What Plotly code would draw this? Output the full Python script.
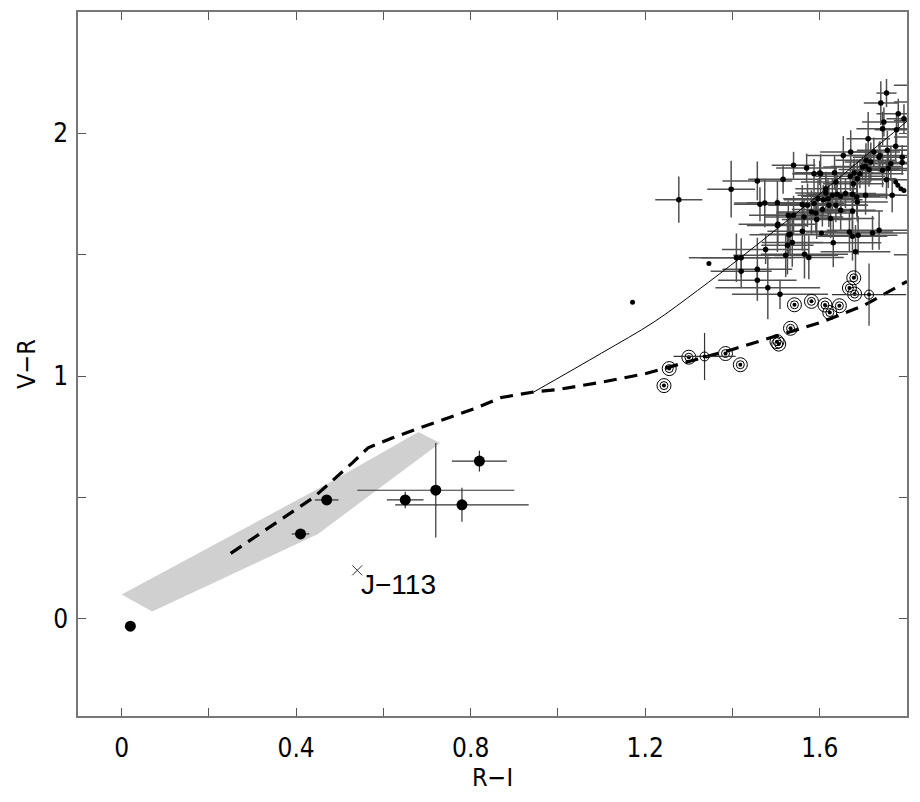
import plotly.graph_objects as go

# ---- shaded region (polygon vertices, R-I / V-R) ----
poly_x = [0.0, 0.07, 0.45, 0.73, 0.68, 0.48, 0.0]
poly_y = [0.10, 0.03, 0.35, 0.725, 0.77, 0.565, 0.10]

# ---- dashed sequence ----
dash_x = [0.25, 0.44, 0.53, 0.565, 0.62, 0.68, 0.81, 0.87, 0.945, 1.0, 1.1, 1.2, 1.3, 1.4, 1.5, 1.6, 1.7, 1.8]
dash_y = [0.27, 0.50, 0.645, 0.705, 0.745, 0.785, 0.867, 0.912, 0.935, 0.945, 0.975, 1.01, 1.06, 1.11, 1.165, 1.22, 1.29, 1.39]

# ---- thin solid sequence ----
solid_x = [0.945, 1.1, 1.22, 1.32, 1.42, 1.5, 1.577, 1.7, 1.8]
solid_y = [0.935, 1.095, 1.223, 1.353, 1.49, 1.604, 1.716, 1.90, 2.05]

# ---- large black dots with error bars ----
big_x = [0.02, 0.41, 0.47, 0.65, 0.72, 0.78, 0.82]
big_y = [-0.03, 0.35, 0.49, 0.49, 0.53, 0.47, 0.65]
big_xerr = [0, 0.02, 0.027, 0.042, 0.18, 0.153, 0.063]
big_yerr = [0, 0.01, 0.01, 0.034, 0.195, 0.07, 0.043]

# ---- J-113 ----
j_x = [0.54]
j_y = [0.20]
j_label = "J\u2212113"

# ---- bullseye points ----
bull_x = [1.243, 1.255, 1.30, 1.384, 1.418, 1.502, 1.506, 1.533, 1.542, 1.581, 1.612, 1.623, 1.645, 1.678, 1.668, 1.68]
bull_y = [0.961, 1.031, 1.078, 1.093, 1.047, 1.142, 1.132, 1.197, 1.294, 1.308, 1.293, 1.262, 1.29, 1.405, 1.363, 1.338]

# ---- single open circles with error bars ----
ring_x = [1.336, 1.713]
ring_y = [1.081, 1.336]
ring_xerr = [0.071, 0.085]
ring_yerr = [0.097, 0.128]

# ---- small dots without error bars ----
plain_x = [1.171, 1.346, 1.604, 1.774, 1.779, 1.786, 1.793]
plain_y = [1.304, 1.464, 1.590, 1.800, 1.786, 1.772, 1.765]

# ---- small dots with error bars ----
cl_x = [1.277, 1.397, 1.457, 1.463, 1.474, 1.503, 1.516, 1.540, 1.570, 1.503,
        1.528, 1.540, 1.529, 1.537, 1.526, 1.476, 1.409, 1.420, 1.420, 1.457,
        1.457, 1.481, 1.509, 1.522, 1.565, 1.575, 1.560, 1.631, 1.587, 1.602,
        1.634, 1.654, 1.671, 1.711, 1.724, 1.740, 1.753, 1.747, 1.744, 1.780,
        1.776, 1.793, 1.774, 1.755, 1.738, 1.789, 1.789, 1.706, 1.717, 1.736,
        1.763, 1.705, 1.698, 1.713, 1.692, 1.744, 1.757, 1.686, 1.670, 1.677,
        1.637, 1.614, 1.600, 1.679, 1.753, 1.766, 1.560, 1.572, 1.587, 1.596,
        1.614, 1.608, 1.619, 1.629, 1.640, 1.648, 1.659, 1.675, 1.685, 1.705,
        1.686, 1.621, 1.637, 1.648, 1.675, 1.591, 1.606, 1.581, 1.564, 1.593,
        1.625, 1.504, 1.532, 1.668, 1.675, 1.688, 1.721, 1.736, 1.682,
        1.83, 1.84, 1.82, 1.85, 1.83, 1.85]
cl_y = [1.727, 1.770, 1.804, 1.708, 1.713, 1.714, 1.811, 1.869, 1.857, 1.621,
        1.663, 1.663, 1.582, 1.551, 1.539, 1.522, 1.488, 1.488, 1.432, 1.440,
        1.395, 1.364, 1.337, 1.498, 1.502, 1.489, 1.597, 1.549, 1.834, 1.834,
        1.838, 1.909, 1.923, 1.978, 1.923, 2.125, 2.166, 2.047, 2.019, 2.081,
        2.015, 2.060, 1.947, 1.930, 1.909, 1.902, 1.880, 1.889, 1.882, 1.902,
        1.875, 1.864, 1.861, 1.851, 1.834, 1.848, 1.855, 1.813, 1.823, 1.793,
        1.800, 1.772, 1.837, 1.837, 1.809, 1.745, 1.707, 1.704, 1.711, 1.731,
        1.754, 1.727, 1.731, 1.745, 1.749, 1.741, 1.752, 1.749, 1.738, 1.745,
        1.717, 1.704, 1.704, 1.683, 1.680, 1.672, 1.686, 1.676, 1.656, 1.645,
        1.649, 1.626, 1.584, 1.594, 1.576, 1.580, 1.590, 1.601, 1.512,
        2.198, 2.129, 2.053, 1.985, 1.930, 1.500]
cl_xerr = [0.054, 0.055, 0.08, 0.06, 0.07, 0.07, 0.08, 0.05, 0.07, 0.07,
           0.09, 0.07, 0.09, 0.07, 0.06, 0.10, 0.08, 0.12, 0.07, 0.08,
           0.09, 0.12, 0.11, 0.12, 0.10, 0.08, 0.08, 0.11, 0.05, 0.06,
           0.09, 0.083, 0.07, 0.05, 0.06, 0.039, 0.023, 0.05, 0.06, 0.05,
           0.05, 0.04, 0.04, 0.07, 0.08, 0.06, 0.05, 0.07, 0.06, 0.06,
           0.07, 0.08, 0.09, 0.07, 0.10, 0.07, 0.06, 0.09, 0.08, 0.07,
           0.08, 0.07, 0.06, 0.07, 0.08, 0.08, 0.08, 0.09, 0.07, 0.08,
           0.07, 0.09, 0.07, 0.08, 0.07, 0.09, 0.07, 0.08, 0.07, 0.08,
           0.07, 0.09, 0.07, 0.08, 0.07, 0.09, 0.07, 0.08, 0.09, 0.08,
           0.10, 0.09, 0.07, 0.10, 0.08, 0.09, 0.11, 0.12, 0.08,
           0.06, 0.07, 0.05, 0.08, 0.06, 0.08]
cl_yerr = [0.095, 0.117, 0.08, 0.07, 0.10, 0.09, 0.06, 0.055, 0.06, 0.11,
           0.06, 0.08, 0.08, 0.10, 0.12, 0.06, 0.10, 0.08, 0.07, 0.13,
           0.06, 0.13, 0.06, 0.09, 0.10, 0.09, 0.08, 0.10, 0.06, 0.08,
           0.07, 0.08, 0.09, 0.11, 0.06, 0.09, 0.058, 0.06, 0.07, 0.062,
           0.06, 0.06, 0.06, 0.08, 0.06, 0.05, 0.05, 0.07, 0.08, 0.06,
           0.07, 0.06, 0.05, 0.07, 0.06, 0.07, 0.08, 0.08, 0.06, 0.08,
           0.06, 0.07, 0.05, 0.06, 0.08, 0.07, 0.08, 0.09, 0.06, 0.08,
           0.08, 0.06, 0.08, 0.07, 0.08, 0.09, 0.06, 0.08, 0.08, 0.08,
           0.08, 0.09, 0.07, 0.08, 0.09, 0.08, 0.07, 0.09, 0.07, 0.08,
           0.08, 0.09, 0.08, 0.08, 0.10, 0.08, 0.07, 0.08, 0.11,
           0.04, 0.05, 0.04, 0.05, 0.04, 0.04]

# ---- axis ticks ----
x_tickvals = [0, 0.2, 0.4, 0.6, 0.8, 1.0, 1.2, 1.4, 1.6]
x_ticktext = ["0", "", "0.4", "", "0.8", "", "1.2", "", "1.6"]
y_tickvals = [0, 0.5, 1, 1.5, 2]
y_ticktext = ["0", "", "1", "", "2"]

FONT = "Liberation Sans Narrow, DejaVu Sans Condensed, Liberation Sans, Arial, sans-serif"
FONT2 = "Liberation Sans, Arial, Helvetica, sans-serif"
fig = go.Figure()

fig.add_trace(go.Scatter(x=poly_x, y=poly_y, mode="lines", fill="toself",
                         fillcolor="#d0d0d0", line=dict(width=0, color="#d0d0d0"),
                         hoverinfo="skip"))

fig.add_trace(go.Scatter(x=cl_x, y=cl_y, mode="markers",
                         marker=dict(size=5.5, color="black"),
                         error_x=dict(type="data", array=cl_xerr, color="#505050", thickness=1.5, width=0),
                         error_y=dict(type="data", array=cl_yerr, color="#505050", thickness=1.5, width=0)))

fig.add_trace(go.Scatter(x=solid_x, y=solid_y, mode="lines", line_shape="spline",
                         line=dict(color="black", width=1)))
fig.add_trace(go.Scatter(x=dash_x, y=dash_y, mode="lines",
                         line=dict(color="black", width=3.2, dash="13px,8px")))

fig.add_trace(go.Scatter(x=plain_x, y=plain_y, mode="markers",
                         marker=dict(size=5, color="black")))

fig.add_trace(go.Scatter(x=big_x, y=big_y, mode="markers",
                         marker=dict(size=11, color="black"),
                         error_x=dict(type="data", array=big_xerr, color="#333", thickness=1.2, width=0),
                         error_y=dict(type="data", array=big_yerr, color="#333", thickness=1.2, width=0)))

# bullseyes
fig.add_trace(go.Scatter(x=bull_x, y=bull_y, mode="markers",
                         marker=dict(size=14, symbol="circle-open", color="black", line=dict(width=1))))
fig.add_trace(go.Scatter(x=bull_x, y=bull_y, mode="markers",
                         marker=dict(size=8, symbol="circle-open", color="black", line=dict(width=1))))
fig.add_trace(go.Scatter(x=bull_x, y=bull_y, mode="markers",
                         marker=dict(size=4, color="black")))

fig.add_trace(go.Scatter(x=ring_x, y=ring_y, mode="markers",
                         marker=dict(size=9, symbol="circle-open", color="black", line=dict(width=1)),
                         error_x=dict(type="data", array=ring_xerr, color="#333", thickness=1.2, width=0),
                         error_y=dict(type="data", array=ring_yerr, color="#333", thickness=1.2, width=0)))
fig.add_trace(go.Scatter(x=ring_x, y=ring_y, mode="markers",
                         marker=dict(size=4, color="black")))

fig.add_trace(go.Scatter(x=j_x, y=j_y, mode="markers",
                         marker=dict(size=10, symbol="x-thin-open", color="#333", line=dict(width=1, color="#333"))))
fig.add_annotation(x=j_x[0], y=j_y[0], text=j_label, showarrow=False,
                   xanchor="left", yanchor="top", xshift=2, yshift=3,
                   font=dict(family=FONT2, size=28, color="black"))

axis_common = dict(showgrid=False, zeroline=False, showline=True, mirror="allticks",
                   linecolor="#777", linewidth=1.5, ticks="inside", ticklen=8,
                   tickcolor="#555", tickwidth=1,
                   tickfont=dict(family=FONT, size=26, color="black"))

fig.update_xaxes(range=[-0.1, 1.8], tickmode="array", tickvals=x_tickvals, ticktext=x_ticktext,
                 title=dict(text="R\u2212I", font=dict(family=FONT, size=25, color="black"), standoff=4),
                 ticklabelstandoff=8, **axis_common)
fig.update_yaxes(range=[-0.4, 2.5], tickmode="array", tickvals=y_tickvals, ticktext=y_ticktext,
                 title=dict(text="V\u2212R", font=dict(family=FONT, size=25, color="black"), standoff=10),
                 ticklabelstandoff=3, **axis_common)

fig.update_layout(width=920, height=802, showlegend=False,
                  plot_bgcolor="white", paper_bgcolor="white",
                  margin=dict(l=70, r=21, t=4, b=94, autoexpand=False))

fig.write_html("out.html")
